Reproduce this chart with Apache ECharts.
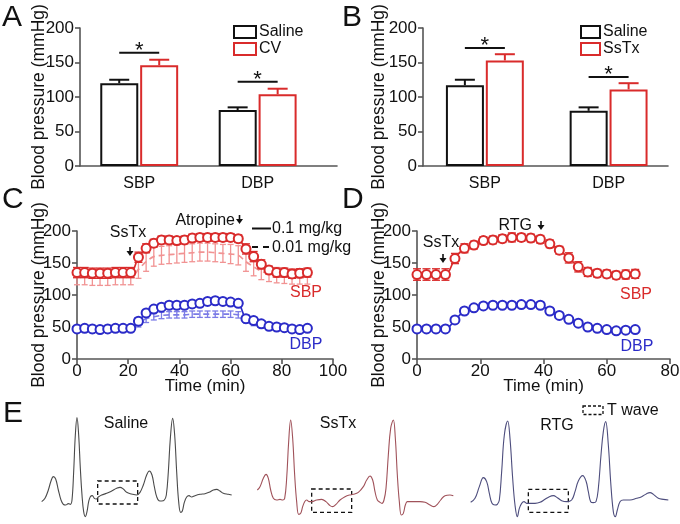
<!DOCTYPE html>
<html><head><meta charset="utf-8">
<script src="https://cdn.jsdelivr.net/npm/echarts@6/dist/echarts.min.js"></script>
<style>html,body{margin:0;padding:0;background:#fff}#c{width:680px;height:524px}</style>
</head><body><div id="c"></div>
<script>
const FONT = 'Liberation Sans, Arial, Helvetica, sans-serif';
const RED = '#d92b2b', BLUE = '#2b2bc8', PINK = '#f19393', LBLUE = '#7b7be6', INK = '#111', AX = '#555';

// ---- Panel A / B (bars) ----
const barCats = ['SBP', 'DBP'];
const aSaline = [120, 81], aSalineErr = [5, 4];
const aCV = [146, 104], aCVErr = [8, 8];
const bSaline = [117, 80], bSalineErr = [8, 5];
const bSsTx = [153, 111], bSsTxErr = [9, 9];
const yTicks = [0, 50, 100, 150, 200];

// ---- Panel C (time course, 0.1 and 0.01 mg/kg) ----
const cTime = [0,3,6,9,12,15,18,21,24,27,30,33,36,39,42,45,48,51,54,57,60,63,66,69,72,75,78,81,84,87,90];
const cSBPhigh = [135,135,134,134,134,135,135,135,159,173,181,186,186,185,186,189,190,190,190,190,190,188,172,160,148,139,135,135,133,134,135];
const cSBPhighErr = [8,8,8,8,8,8,8,8,8,7,6,6,6,6,6,6,6,6,6,6,6,6,8,8,7,6,7,7,7,7,7];
const cSBPlow = [128,128,127,127,127,128,128,128,140,152,160,162,163,164,165,166,167,167,166,165,164,162,152,144,137,133,131,130,129,129,129];
const cSBPlowErr = [12,12,12,12,12,12,12,12,14,15,15,14,14,14,14,14,14,14,14,14,15,15,15,14,13,12,12,12,12,12,12];
const cDBPhigh = [47,48,47,46,47,48,48,48,59,72,78,81,84,84,84,86,87,90,91,90,89,87,63,60,55,51,50,49,47,46,48];
const cDBPhighErr = [3,3,3,3,3,3,3,3,5,4,4,4,3,3,3,4,4,4,4,4,4,4,5,5,5,4,3,3,3,3,3];
const cDBPlow = [46,46,45,45,46,46,47,47,56,63,66,68,69,69,69,70,70,70,70,70,70,69,62,58,54,51,49,48,47,46,46];
const cDBPlowErr = [4,4,4,4,4,4,4,4,6,6,5,5,5,5,5,5,5,5,5,5,5,5,6,6,5,4,4,4,4,4,4];

// ---- Panel D ----
const dTime = [0,3,6,9,12,15,18,21,24,27,30,33,36,39,42,45,48,51,54,57,60,63,66,69];
const dSBP = [132,132,132,132,157,173,178,185,186,188,190,190,189,187,180,170,158,144,136,134,133,131,132,133];
const dSBPErr = [9,9,9,9,8,7,6,6,6,6,7,6,6,6,6,6,8,8,7,6,6,6,7,7];
const dDBP = [47,47,47,47,61,75,80,83,84,84,84,85,85,84,75,68,62,56,50,48,46,44,45,46];
const dDBPErr = [3,3,3,3,4,4,3,3,3,3,3,3,3,3,4,4,4,4,3,3,3,3,3,3];

// ---- Panel E (ECG traces: [time sample, amplitude]) ----
const ecgSaline = [[20,10],[30,20],[40,45],[48,72],[55,85],[62,78],[70,45],[78,15],[85,2],[92,0],[100,4],[106,2],[111,15],[116,100],[121,210],[126,262],[131,210],[136,110],[141,30],[146,-20],[151,-35],[156,-20],[161,10],[166,25],[172,28],[178,20],[184,18],[190,24],[200,30],[215,35],[230,42],[245,50],[255,53],[265,48],[275,38],[290,33],[305,30],[315,38],[325,60],[335,90],[343,102],[351,90],[358,55],[365,25],[372,13],[380,12],[388,15],[394,30],[400,100],[406,200],[413,260],[419,210],[425,100],[431,10],[437,-22],[442,-18],[448,8],[455,24],[462,28],[470,24],[480,28],[495,32],[510,34],[522,38],[535,45],[545,47],[555,42],[565,35],[580,32],[590,30]];
const ecgSsTx = [[22,45],[30,55],[40,80],[48,92],[55,80],[62,45],[70,20],[80,15],[90,17],[98,15],[104,20],[110,80],[116,190],[122,255],[128,200],[134,90],[140,10],[146,-28],[152,-25],[158,-5],[164,10],[170,15],[178,10],[186,10],[200,15],[215,17],[228,10],[240,-2],[248,-5],[258,2],[270,15],[285,25],[298,30],[310,32],[325,38],[340,55],[350,75],[360,87],[368,75],[375,40],[382,15],[390,8],[396,5],[402,15],[408,50],[415,150],[422,230],[430,255],[436,200],[442,90],[448,10],[454,-30],[460,-25],[466,0],[472,10],[480,10],[495,10],[510,10],[525,8],[540,0],[552,-5],[562,2],[572,15],[585,28],[600,30],[610,28]];
const ecgRTG = [[32,8],[45,20],[58,55],[70,82],[80,70],[88,35],[96,5],[105,0],[112,2],[118,15],[125,100],[133,210],[143,252],[150,200],[158,80],[165,0],[172,-35],[178,-10],[185,5],[192,10],[200,5],[210,5],[225,5],[240,8],[255,17],[268,25],[280,28],[292,22],[305,13],[320,10],[335,15],[345,40],[355,72],[368,88],[378,72],[385,40],[392,10],[400,7],[408,10],[415,50],[423,150],[430,220],[437,250],[445,180],[452,70],[460,-20],[466,-35],[472,-15],[480,10],[490,15],[510,15],[530,20],[545,25],[560,34],[570,37],[580,32],[595,20],[610,17],[625,15]];
const tWaveSaline = [[188, 72], [308, 3]];
const tWaveSsTx = [[185, 48], [305, -22]];
const tWaveRTG = [[205, 47], [325, -22]];

// ---------- helpers ----------
const chart = echarts.init(document.getElementById('c'), null, {renderer: 'canvas'});

function errRender(color, offset, capHalf, both, lw) {
  return function (params, api) {
    const x = api.value(0), y = api.value(1), e = api.value(2);
    const p = api.coord([x, y]), hi = api.coord([x, y + e]), lo = api.coord([x, y - e]);
    const cx = p[0] + offset;
    const st = {stroke: color, lineWidth: lw};
    const ch = [
      {type: 'line', shape: {x1: cx, y1: both ? lo[1] : p[1], x2: cx, y2: hi[1]}, style: st},
      {type: 'line', shape: {x1: cx - capHalf, y1: hi[1], x2: cx + capHalf, y2: hi[1]}, style: st}
    ];
    if (both) ch.push({type: 'line', shape: {x1: cx - capHalf, y1: lo[1], x2: cx + capHalf, y2: lo[1]}, style: st});
    return {type: 'group', children: ch};
  };
}
function errSeries(gi, xs, vals, errs, color, offset, capHalf, both, lw, z) {
  return {
    type: 'custom', xAxisIndex: gi, yAxisIndex: gi, z: z || 2, silent: true,
    renderItem: errRender(color, offset, capHalf, both, lw),
    encode: {x: 0, y: 1},
    data: xs.map((x, i) => [x, vals[i], errs[i]])
  };
}
function sigSeries(gi, a, ae, b, be, pad) {
  const data = barCats.map((_, i) => [i + 1, Math.max(a[i] + ae[i], b[i] + be[i]) + pad]);
  return {
    type: 'custom', xAxisIndex: gi, yAxisIndex: gi, z: 5, silent: true, encode: {x: 0, y: 1},
    renderItem: function (params, api) {
      const p = api.coord([api.value(0), api.value(1)]);
      return {type: 'group', children: [
        {type: 'line', shape: {x1: p[0] - 20, y1: p[1], x2: p[0] + 20, y2: p[1]}, style: {stroke: INK, lineWidth: 2}},
        {type: 'text', x: p[0], y: p[1] - 2, style: {text: '*', fontSize: 22, fontFamily: FONT, fill: INK, align: 'center', verticalAlign: 'middle'}}
      ]};
    },
    data: data
  };
}
const catIdx = v => (Math.abs(v - 1) < 1e-6 ? barCats[0] : Math.abs(v - 2) < 1e-6 ? barCats[1] : '');

function yAx(gi, gap) {
  return {
    gridIndex: gi, type: 'value', min: 0, max: 200, interval: 50,
    name: 'Blood pressure (mmHg)', nameLocation: 'middle', nameGap: gap, nameMoveOverlap: false,
    nameTextStyle: {fontSize: 17.5, fontFamily: FONT, color: INK},
    axisLine: {show: true, lineStyle: {color: AX, width: 1.6}},
    axisTick: {show: true, length: 5, lineStyle: {color: AX, width: 1.6}},
    axisLabel: {fontSize: 17, fontFamily: FONT, color: INK, margin: 6},
    splitLine: {show: false}
  };
}
function barX(gi, max) {
  return {
    gridIndex: gi, type: 'value', min: 0.5, max: max, interval: 0.5,
    axisLine: {show: true, lineStyle: {color: AX, width: 1.6}},
    axisTick: {show: false},
    axisLabel: {fontSize: 16, fontFamily: FONT, color: INK, margin: 10, formatter: catIdx, showMinLabel: true, showMaxLabel: false},
    splitLine: {show: false}
  };
}
function timeX(gi, max) {
  return {
    gridIndex: gi, type: 'value', min: 0, max: max, interval: 20,
    name: 'Time (min)', nameLocation: 'middle', nameGap: 19, nameMoveOverlap: false,
    nameTextStyle: {fontSize: 17, fontFamily: FONT, color: INK},
    axisLine: {show: true, lineStyle: {color: AX, width: 1.6}},
    axisTick: {show: true, length: 5, lineStyle: {color: AX, width: 1.6}},
    axisLabel: {fontSize: 17, fontFamily: FONT, color: INK, margin: 4},
    splitLine: {show: false}
  };
}
function hiddenAx(gi, min, max) {
  return {gridIndex: gi, type: 'value', min: min, max: max, show: false, splitLine: {show: false}};
}
function barSeries(gi, name, vals, color) {
  return {
    type: 'bar', name: name, xAxisIndex: gi, yAxisIndex: gi, barWidth: 38, barGap: '5%', z: 3,
    itemStyle: {color: '#fff', borderColor: color, borderWidth: 2},
    data: vals.map((v, i) => [i + 1, v])
  };
}
function lineSeries(gi, xs, vals, color, dashed, withSymbol) {
  return {
    type: 'line', xAxisIndex: gi, yAxisIndex: gi, smooth: 0.35, z: dashed ? 2 : 4,
    symbol: withSymbol ? 'emptyCircle' : 'none', symbolSize: 9,
    itemStyle: {color: color, borderColor: color, borderWidth: 1.4},
    lineStyle: {color: color, width: 1.7, type: dashed ? [6, 4] : 'solid'},
    data: xs.map((x, i) => [x, vals[i]])
  };
}
function ecgSeries(gi, pts, color, box) {
  return {
    type: 'line', xAxisIndex: gi, yAxisIndex: gi, smooth: 0.4, symbol: 'none',
    lineStyle: {color: color, width: 1.1}, data: pts,
    markArea: {silent: true,
      itemStyle: {color: 'rgba(0,0,0,0)', borderColor: INK, borderWidth: 1.3, borderType: [4, 3]},
      data: [[{coord: box[0]}, {coord: box[1]}]]}
  };
}
function txt(s, x, y, size, color, align) {
  return {type: 'text', x: x, y: y, silent: true,
    style: {text: s, fontSize: size, fontFamily: FONT, fill: color, align: align || 'center', verticalAlign: 'middle'}};
}
function arrow(x, y1, y2) {
  return {type: 'group', silent: true, children: [
    {type: 'line', shape: {x1: x, y1: y1, x2: x, y2: y2 - 4}, style: {stroke: INK, lineWidth: 1.6}},
    {type: 'polygon', shape: {points: [[x - 3.5, y2 - 5], [x + 3.5, y2 - 5], [x, y2]]}, style: {fill: INK}}
  ]};
}

const grids = [
  {left: 80, top: 28, width: 257, height: 138},
  {left: 423, top: 28, width: 245, height: 138},
  {left: 77, top: 231, width: 256, height: 128},
  {left: 417, top: 231, width: 253, height: 128},
  {left: 35, top: 405, width: 210, height: 115},
  {left: 250, top: 405, width: 210, height: 115},
  {left: 460, top: 405, width: 220, height: 115}
].map(g => Object.assign({outerBoundsMode: 'none', containLabel: false}, g));

const legendBase = {orient: 'vertical', icon: 'rect', itemHeight: 12, itemGap: 1, padding: 0, selectedMode: false,
  textStyle: {fontSize: 16, fontFamily: FONT, color: INK, padding: [0, 0, 0, -2]}};

const option = {
  animation: false,
  backgroundColor: '#fff',
  textStyle: {fontFamily: FONT},
  grid: grids,
  xAxis: [barX(0, 2.67), barX(1, 2.48), timeX(2, 100), timeX(3, 80),
    hiddenAx(4, 0, 630), hiddenAx(5, 0, 630), hiddenAx(6, 0, 660)],
  yAxis: [yAx(0, 32), yAx(1, 35), yAx(2, 29), yAx(3, 29),
    hiddenAx(4, -45, 300), hiddenAx(5, -45, 300), hiddenAx(6, -45, 300)],
  legend: [
    Object.assign({}, legendBase, {left: 233, top: 24, itemWidth: 22,
      data: [{name: 'Saline', itemStyle: {color: '#fff', borderColor: INK, borderWidth: 2}},
             {name: 'CV', itemStyle: {color: '#fff', borderColor: RED, borderWidth: 2}}]}),
    Object.assign({}, legendBase, {left: 580, top: 24, itemWidth: 19,
      data: [{name: 'Saline', itemStyle: {color: '#fff', borderColor: INK, borderWidth: 2}},
             {name: 'SsTx', itemStyle: {color: '#fff', borderColor: RED, borderWidth: 2}}]})
  ],
  series: [
    // A
    barSeries(0, 'Saline', aSaline, INK),
    barSeries(0, 'CV', aCV, RED),
    errSeries(0, [1, 2], aSaline, aSalineErr, INK, -20, 10, false, 2, 4),
    errSeries(0, [1, 2], aCV, aCVErr, RED, 20, 10, false, 2, 4),
    sigSeries(0, aSaline, aSalineErr, aCV, aCVErr, 10),
    // B
    barSeries(1, 'Saline', bSaline, INK),
    barSeries(1, 'SsTx', bSsTx, RED),
    errSeries(1, [1, 2], bSaline, bSalineErr, INK, -20, 10, false, 2, 4),
    errSeries(1, [1, 2], bSsTx, bSsTxErr, RED, 20, 10, false, 2, 4),
    sigSeries(1, bSaline, bSalineErr, bSsTx, bSsTxErr, 9),
    // C
    errSeries(2, cTime, cSBPlow, cSBPlowErr, PINK, 0, 3, true, 1.3, 1),
    lineSeries(2, cTime, cSBPlow, PINK, true, false),
    errSeries(2, cTime, cDBPlow, cDBPlowErr, LBLUE, 0, 3, true, 1.3, 1),
    lineSeries(2, cTime, cDBPlow, LBLUE, true, false),
    errSeries(2, cTime, cSBPhigh, cSBPhighErr, RED, 0, 4, true, 1.3, 3),
    lineSeries(2, cTime, cSBPhigh, RED, false, true),
    errSeries(2, cTime, cDBPhigh, cDBPhighErr, BLUE, 0, 4, true, 1.3, 3),
    lineSeries(2, cTime, cDBPhigh, BLUE, false, true),
    // D
    errSeries(3, dTime, dSBP, dSBPErr, RED, 0, 4, true, 1.3, 3),
    lineSeries(3, dTime, dSBP, RED, false, true),
    errSeries(3, dTime, dDBP, dDBPErr, BLUE, 0, 4, true, 1.3, 3),
    lineSeries(3, dTime, dDBP, BLUE, false, true),
    // E
    ecgSeries(4, ecgSaline, '#4a4a4a', tWaveSaline),
    ecgSeries(5, ecgSsTx, '#a0525a', tWaveSsTx),
    ecgSeries(6, ecgRTG, '#4d4d7d', tWaveRTG)
  ],
  graphic: [
    txt('A', 2, 18, 30, INK, 'left'),
    txt('B', 342, 18, 30, INK, 'left'),
    txt('C', 2, 200, 30, INK, 'left'),
    txt('D', 342, 200, 30, INK, 'left'),
    txt('E', 3, 414, 30, INK, 'left'),
    // C annotations
    txt('SsTx', 128, 233, 16, INK),
    arrow(130, 247, 256),
    txt('Atropine', 235, 221, 16, INK, 'right'),
    arrow(239.5, 215, 224),
    {type: 'line', silent: true, shape: {x1: 252, y1: 228.5, x2: 271, y2: 228.5}, style: {stroke: INK, lineWidth: 2}},
    txt('0.1 mg/kg', 272, 229, 16, INK, 'left'),
    {type: 'line', silent: true, shape: {x1: 252, y1: 247, x2: 258, y2: 247}, style: {stroke: INK, lineWidth: 2}},
    {type: 'line', silent: true, shape: {x1: 263, y1: 247, x2: 269, y2: 247}, style: {stroke: INK, lineWidth: 2}},
    txt('0.01 mg/kg', 272, 247.5, 16, INK, 'left'),
    txt('SBP', 306, 293, 16, RED),
    txt('DBP', 306, 345, 16, BLUE),
    // D annotations
    txt('SsTx', 441, 243, 16, INK),
    arrow(443, 254, 263),
    txt('RTG', 532, 226, 16, INK, 'right'),
    arrow(541, 221, 230),
    txt('SBP', 636, 295, 16, RED),
    txt('DBP', 637, 347, 16, BLUE),
    // E labels
    txt('Saline', 126, 424, 16, INK),
    txt('SsTx', 338, 424, 16, INK),
    txt('RTG', 557, 426, 16, INK),
    {type: 'rect', silent: true, shape: {x: 583, y: 406, width: 20, height: 8.5},
      style: {fill: 'none', stroke: INK, lineWidth: 1.3, lineDash: [3, 2]}},
    txt('T wave', 607, 411, 16, INK, 'left')
  ]
};
chart.setOption(option);
</script>
</body></html>
